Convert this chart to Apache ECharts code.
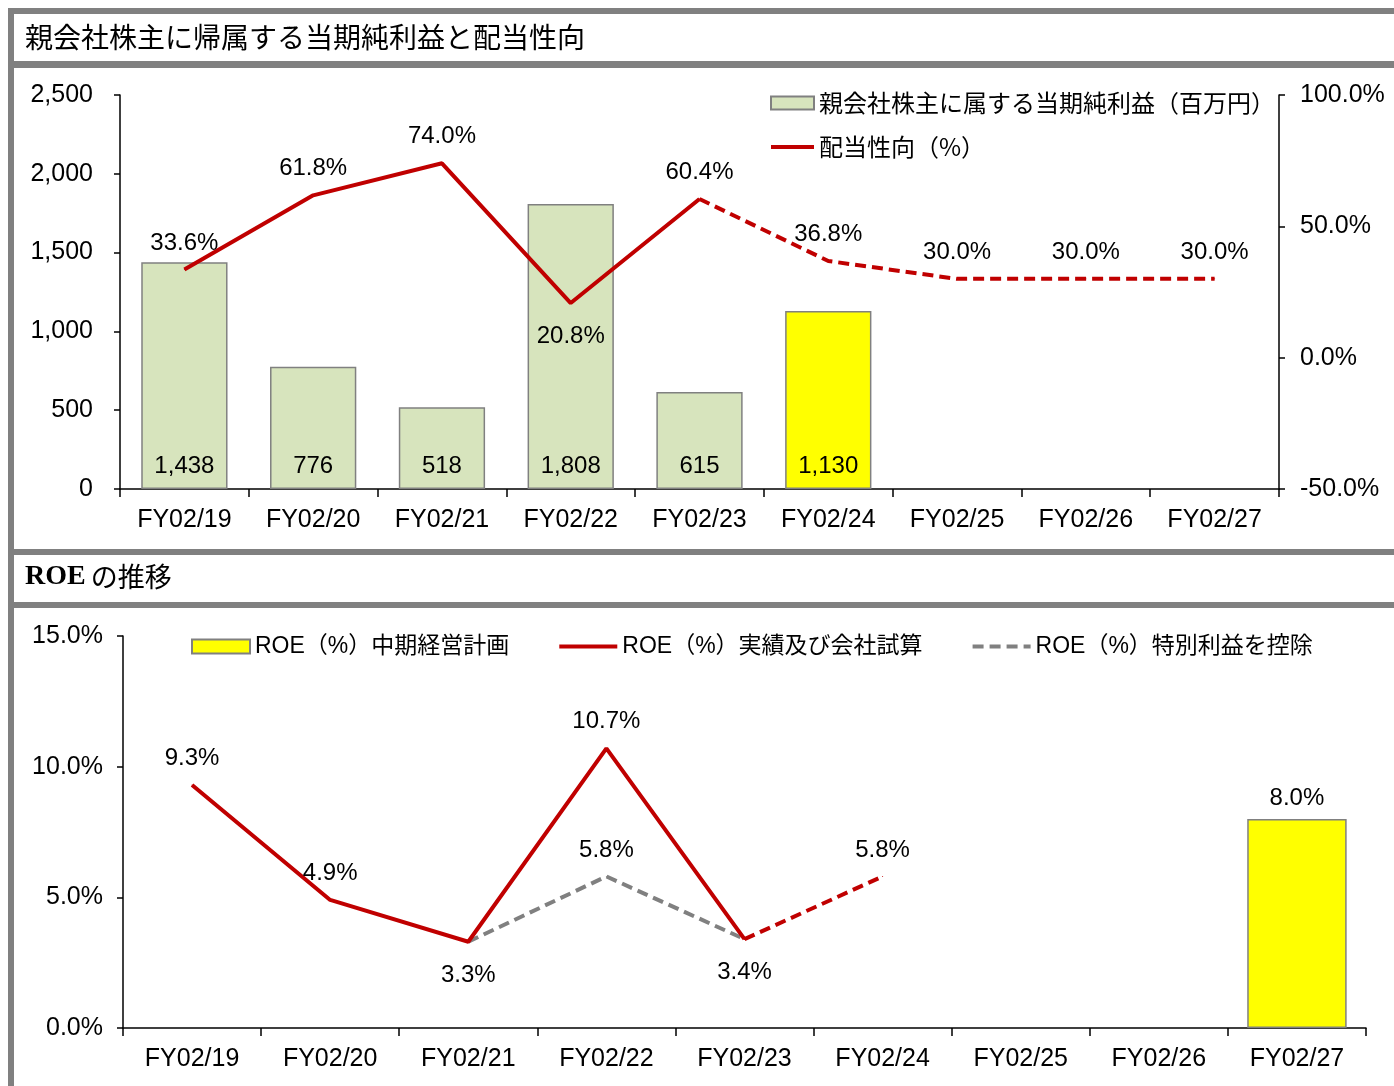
<!DOCTYPE html>
<html>
<head>
<meta charset="utf-8">
<script src="https://cdn.jsdelivr.net/npm/echarts@6/dist/echarts.min.js"></script>
<style>
  html, body { margin: 0; padding: 0; background: #fff; }
  #main { width: 1394px; height: 1086px; }
</style>
</head>
<body>
<div id="main"></div>
<script>
var years = ['FY02/19', 'FY02/20', 'FY02/21', 'FY02/22', 'FY02/23', 'FY02/24', 'FY02/25', 'FY02/26', 'FY02/27']

// 上段
var netIncome = [1438, 776, 518, 1808, 615, 1130, null, null, null]
var payoutRatio = [33.6, 61.8, 74.0, 20.8, 60.4, 36.8, 30.0, 30.0, 30.0]
var lastActual = 4   // FY02/23まで実績、以降は点線
var highlightIdx = 5 // 黄色のバー

// 下段
var roeActual = [9.3, 4.9, 3.3, 10.7, 3.4, 5.8, null, null, null]
var roeExSpecial = [null, null, 3.3, 5.8, 3.4, null, null, null, null]
var roePlan = [null, null, null, null, null, null, null, null, 8.0]
var roeLastActual = 4

var payoutBelow = [3]
var roeBelow = [2, 4]

var FONT = '"Liberation Sans", Arial, "Noto Sans CJK JP"'
var JP = '"Noto Sans CJK JP", sans-serif'
var RED = '#c00000'
var GRAY = '#808080'

function pct (v) { return v.toFixed(1) + '%' }
function commas (v) { return Number(v).toLocaleString('en-US') }

function splitLine (arr, last, solid) {
  return arr.map(function (v, i) {
    if (v == null) return '-'
    if (solid) return i <= last ? v : '-'
    return i >= last ? v : '-'
  })
}

function withLabels (arr, below, show) {
  return arr.map(function (v, i) {
    if (v === '-') return v
    var lbl = { show: show(i) }
    if (below.indexOf(i) >= 0) { lbl.position = 'bottom'; lbl.distance = 21 }
    return { value: v, label: lbl }
  })
}

var axisLine = { show: true, lineStyle: { color: '#000', width: 1.5 } }
var axisTick = { show: true, length: 6, lineStyle: { color: '#000', width: 1.5 } }
var lblText = { color: '#000', fontSize: 25, fontFamily: FONT }

var chart = echarts.init(document.getElementById('main'), null, { renderer: 'canvas' })

var frames = [
  [8, 8, 1386, 6],
  [8, 8, 6, 1078],
  [8, 61, 1386, 7],
  [8, 549, 1386, 6],
  [8, 602, 1386, 6]
].map(function (r) {
  return { type: 'rect', shape: { x: r[0], y: r[1], width: r[2], height: r[3] }, style: { fill: GRAY }, silent: true }
})

var lineLabel = { show: true, position: 'top', distance: 14, formatter: function (p) { return pct(p.value) }, color: '#000', fontSize: 24, fontFamily: FONT }

// 線のシンボルは見えないサイズにして、ラベルだけ出す
function lineSeries (name, yIdx, xIdx, color, dashed, z, data) {
  return {
    name: name,
    type: 'line', xAxisIndex: xIdx, yAxisIndex: yIdx,
    symbol: 'circle', symbolSize: 1, showSymbol: true, showAllSymbol: true, z: z,
    lineStyle: { color: color, width: 4, type: dashed ? [11, 6] : 'solid', cap: 'butt' },
    itemStyle: { color: color },
    label: lineLabel,
    data: data
  }
}

var noDot = { opacity: 0 }

var option = {
  animation: false,
  backgroundColor: '#fff',
  graphic: frames,
  title: [
    {
      text: '親会社株主に帰属する当期純利益と配当性向',
      left: 25, top: 23, padding: 0,
      textStyle: { fontSize: 28, fontWeight: 'normal', color: '#000', fontFamily: JP }
    },
    {
      text: '{a|ROE} {b|の推移}',
      left: 25, top: 563, padding: 0,
      textStyle: {
        fontWeight: 'normal',
        rich: {
          a: { fontSize: 28, fontWeight: 'bold', fontFamily: '"Liberation Serif", "Times New Roman", serif', color: '#000' },
          b: { fontSize: 27, fontWeight: 'normal', fontFamily: JP, color: '#000' }
        }
      }
    }
  ],
  legend: [
    {
      orient: 'vertical', left: 764, top: 86, itemGap: 20,
      itemWidth: 43, itemHeight: 13,
      textStyle: { fontSize: 24, fontFamily: JP, color: '#000' },
      data: [
        { name: '親会社株主に属する当期純利益（百万円）', icon: 'rect' },
        { name: '配当性向（%）', itemStyle: noDot, lineStyle: { width: 4 } }
      ]
    },
    {
      orient: 'horizontal', left: 186, top: 630, itemGap: 48,
      itemWidth: 58, itemHeight: 14,
      textStyle: { fontSize: 23, fontFamily: FONT, color: '#000' },
      data: [
        { name: 'ROE（%）中期経営計画', icon: 'rect' },
        { name: 'ROE（%）実績及び会社試算', itemStyle: noDot, lineStyle: { width: 4 } },
        { name: 'ROE（%）特別利益を控除', itemStyle: noDot, lineStyle: { width: 4 } }
      ]
    }
  ],
  grid: [
    { left: 120, right: 115, top: 95, height: 394 },
    { left: 123, right: 28, top: 636, height: 392 }
  ],
  xAxis: [
    {
      type: 'category', gridIndex: 0, data: years, boundaryGap: true,
      axisLine: axisLine, axisTick: Object.assign({}, axisTick, { length: 8 }),
      axisLabel: Object.assign({ margin: 19 }, lblText)
    },
    {
      type: 'category', gridIndex: 1, data: years, boundaryGap: true,
      axisLine: axisLine, axisTick: Object.assign({}, axisTick, { length: 8 }),
      axisLabel: Object.assign({ margin: 19 }, lblText)
    }
  ],
  yAxis: [
    {
      type: 'value', gridIndex: 0, min: 0, max: 2500, interval: 500,
      axisLine: axisLine, axisTick: axisTick, splitLine: { show: false },
      axisLabel: Object.assign({ margin: 27, formatter: commas }, lblText)
    },
    {
      type: 'value', gridIndex: 0, position: 'right', min: -50, max: 100, interval: 50,
      axisLine: axisLine, axisTick: axisTick, splitLine: { show: false },
      axisLabel: Object.assign({ margin: 21, formatter: pct }, lblText)
    },
    {
      type: 'value', gridIndex: 1, min: 0, max: 15, interval: 5,
      axisLine: axisLine, axisTick: axisTick, splitLine: { show: false },
      axisLabel: Object.assign({ margin: 20, formatter: pct }, lblText)
    }
  ],
  series: [
    {
      name: '親会社株主に属する当期純利益（百万円）',
      type: 'bar', xAxisIndex: 0, yAxisIndex: 0,
      barCategoryGap: '33%',
      itemStyle: { color: '#d7e4bd', borderColor: GRAY, borderWidth: 1.5 },
      label: {
        show: true, position: 'insideBottom', distance: 11,
        formatter: function (p) { return commas(p.value) },
        color: '#000', fontSize: 24, fontFamily: FONT
      },
      data: netIncome.map(function (v, i) {
        if (v == null) return '-'
        if (i === highlightIdx) return { value: v, itemStyle: { color: '#ffff00' } }
        return v
      })
    },
    lineSeries('配当性向（%）', 1, 0, RED, false, 5,
      withLabels(splitLine(payoutRatio, lastActual, true), payoutBelow, function () { return true })),
    lineSeries('配当性向予想', 1, 0, RED, true, 5,
      withLabels(splitLine(payoutRatio, lastActual, false), payoutBelow, function (i) { return i > lastActual })),
    {
      name: 'ROE（%）中期経営計画',
      type: 'bar', xAxisIndex: 1, yAxisIndex: 2,
      barCategoryGap: '28%',
      itemStyle: { color: '#ffff00', borderColor: GRAY, borderWidth: 1.5 },
      label: {
        show: true, position: 'top', distance: 9,
        formatter: function (p) { return pct(p.value) },
        color: '#000', fontSize: 24, fontFamily: FONT
      },
      data: roePlan.map(function (v) { return v == null ? '-' : v })
    },
    lineSeries('ROE（%）特別利益を控除', 2, 1, GRAY, true, 4,
      withLabels(roeExSpecial.map(function (v) { return v == null ? '-' : v }), roeBelow, function (i) { return i === 3 })),
    lineSeries('ROE（%）実績及び会社試算', 2, 1, RED, false, 5,
      withLabels(splitLine(roeActual, roeLastActual, true), roeBelow, function () { return true })),
    lineSeries('ROE予想', 2, 1, RED, true, 5,
      withLabels(splitLine(roeActual, roeLastActual, false), roeBelow, function (i) { return i > roeLastActual }))
  ]
}

chart.setOption(option)
</script>
</body>
</html>
